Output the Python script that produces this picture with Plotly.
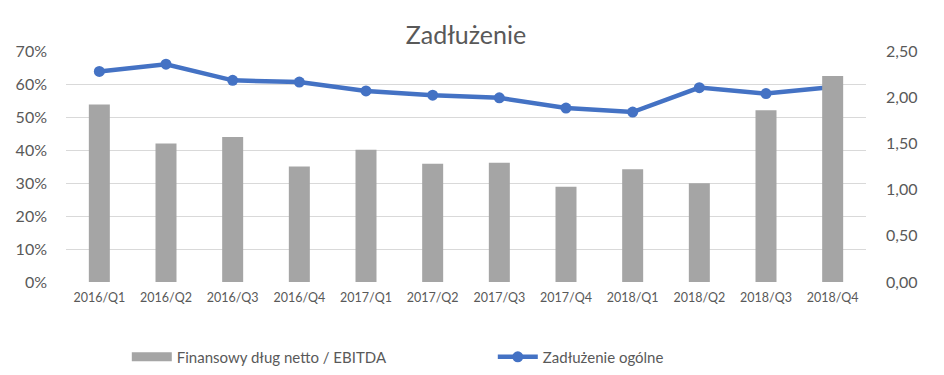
import plotly.graph_objects as go

categories = ["2016/Q1", "2016/Q2", "2016/Q3", "2016/Q4", "2017/Q1", "2017/Q2",
              "2017/Q3", "2017/Q4", "2018/Q1", "2018/Q2", "2018/Q3", "2018/Q4"]
dlug_ebitda = [1.92, 1.50, 1.57, 1.25, 1.43, 1.28, 1.29, 1.03, 1.22, 1.07, 1.86, 2.23]
zadluzenie_ogolne = [0.638, 0.660, 0.611, 0.606, 0.579, 0.566, 0.558, 0.527, 0.515, 0.589, 0.571, 0.591]

left_ticks = [0, 0.1, 0.2, 0.3, 0.4, 0.5, 0.6, 0.7]
left_labels = ["0%", "10%", "20%", "30%", "40%", "50%", "60%", "70%"]
right_ticks = [0, 0.5, 1.0, 1.5, 2.0, 2.5]
right_labels = ["0,00", "0,50", "1,00", "1,50", "2,00", "2,50"]

FONT = "Lato"
TXT = "#595959"
BAR_COLOR = "#A5A5A5"
LINE_COLOR = "#4472C4"

fig = go.Figure()
fig.add_trace(go.Bar(
    x=categories, y=dlug_ebitda, name="Finansowy dług netto / EBITDA",
    marker=dict(color=BAR_COLOR, line=dict(width=0)), yaxis="y2",
    showlegend=False, legendgroup="bar",
))
# legend entry for bars drawn as a wide flat swatch (as in the original)
fig.add_trace(go.Scatter(
    x=[None], y=[None], name="Finansowy dług netto / EBITDA", mode="lines",
    line=dict(color=BAR_COLOR, width=9), yaxis="y2", legendgroup="bar",
))
fig.add_trace(go.Scatter(
    x=categories, y=zadluzenie_ogolne, name="Zadłużenie ogólne",
    mode="lines+markers", line=dict(color=LINE_COLOR, width=4.5),
    marker=dict(size=11, color=LINE_COLOR), yaxis="y",
))

W, H = 936, 367  # page body has an 8px margin
fig.update_layout(
    width=W, height=H,
    margin=dict(l=58, r=78, t=43, b=93, autoexpand=False),
    paper_bgcolor="white", plot_bgcolor="white",
    font=dict(family=FONT, color=TXT),
    title=dict(text="Zadłużenie", x=0.5, xanchor="center", xref="paper",
               yref="container", y=1 - 27 / H, yanchor="middle",
               font=dict(family=FONT, size=25, color=TXT)),
    bargap=0.685,
    showlegend=True,
    legend=dict(orientation="h", x=0.076, y=-0.325, xanchor="left", yanchor="middle",
                font=dict(family=FONT, size=15, color=TXT), entrywidth=311,
                itemwidth=40, traceorder="normal"),
    xaxis=dict(type="category", range=[-0.5, len(categories) - 0.5],
               showgrid=False, showline=False, zeroline=False,
               automargin=False, ticklabelstandoff=6,
               tickfont=dict(family=FONT, size=12.5, color=TXT), ticks=""),
    yaxis=dict(range=[0, 0.7], tickvals=left_ticks, ticktext=left_labels,
               showgrid=True, gridcolor="#D9D9D9", gridwidth=1.3, zeroline=False,
               automargin=False,
               tickfont=dict(family=FONT, size=16, color=TXT), ticklabelstandoff=18),
    yaxis2=dict(range=[0, 2.5], tickvals=right_ticks, ticktext=right_labels,
                overlaying="y", side="right", showgrid=False, zeroline=False,
                automargin=False,
                tickfont=dict(family=FONT, size=16, color=TXT), ticklabelstandoff=19),
)

fig.write_html("out.html")
